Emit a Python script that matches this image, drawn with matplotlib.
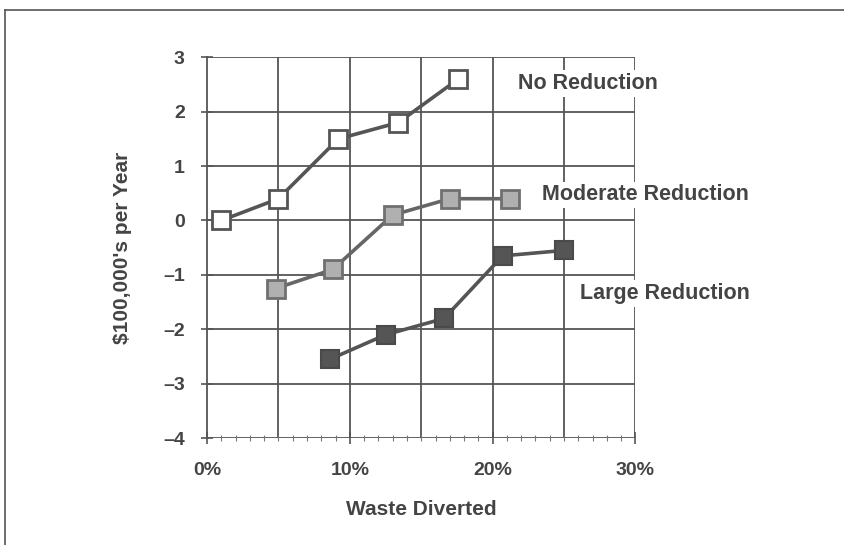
import matplotlib
matplotlib.use('Agg')
import matplotlib.pyplot as plt
from matplotlib.ticker import MultipleLocator, FuncFormatter
from matplotlib.lines import Line2D

# waste diverted (%) and cost ($100,000's per year) per scenario
no_x = [1, 5, 9.2, 13.4, 17.6]
no_y = [0, 0.4, 1.5, 1.8, 2.6]
mod_x = [4.8, 8.8, 13, 17, 21.2]
mod_y = [-1.25, -0.9, 0.1, 0.4, 0.4]
large_x = [8.6, 12.5, 16.6, 20.7, 25]
large_y = [-2.55, -2.1, -1.8, -0.65, -0.55]

labels = ['No Reduction', 'Moderate Reduction', 'Large Reduction']
label_pos = [(26.7, 2.52), (30.7, 0.47), (32.1, -1.34)]

plt.rcParams['font.family'] = ['Liberation Sans', 'DejaVu Sans']
txt = '#444444'

fig = plt.figure(figsize=(8.45, 5.45), dpi=100)
ax = fig.add_axes([0.245, 0.196, 0.507, 0.699])

ax.set_xlim(0, 30)
ax.set_ylim(-4, 3)
ax.xaxis.set_major_locator(MultipleLocator(10))
ax.xaxis.set_minor_locator(MultipleLocator(1))
ax.yaxis.set_major_locator(MultipleLocator(1))
ax.xaxis.set_major_formatter(FuncFormatter(lambda v, p: '%d%%' % v))
ax.yaxis.set_major_formatter(FuncFormatter(lambda v, p: '%d' % v if v >= 0 else '\u2013%d' % -v))

# grid every 5% and every unit
for gx in range(5, 31, 5):
    ax.axvline(gx, color='#555555', lw=1.3, zorder=1)
for gy in range(-4, 4):
    ax.axhline(gy, color='#555555', lw=1.3, zorder=1)

for s in ax.spines.values():
    s.set_visible(False)
ax.spines['left'].set_visible(True)
ax.spines['left'].set_color('#555555')
ax.spines['left'].set_linewidth(1.3)

ax.tick_params(axis='both', which='major', direction='inout', length=8, width=1.2,
               color='#555555', labelsize=14, labelcolor=txt)
ax.tick_params(axis='x', which='minor', direction='inout', length=4, width=0.8, color='#777777')
ax.tick_params(axis='x', pad=13)
ax.tick_params(axis='y', pad=12)
for t in ax.get_xticklabels() + ax.get_yticklabels():
    t.set_fontweight('bold')

ax.plot(no_x, no_y, color='#555555', lw=2.6, marker='s', ms=13,
        mfc='white', mec='#555555', mew=2, zorder=3)
ax.plot(mod_x, mod_y, color='#666666', lw=2.6, marker='s', ms=13,
        mfc='#b0b0b0', mec='#707070', mew=2, zorder=3)
ax.plot(large_x, large_y, color='#555555', lw=2.6, marker='s', ms=13,
        mfc='#555555', mec='#4a4a4a', mew=1.5, zorder=3)

for lab, (lx, ly) in zip(labels, label_pos):
    ax.text(lx, ly, lab, ha='center', va='center', fontsize=15.5, fontweight='bold',
            color=txt, zorder=4, clip_on=False,
            bbox=dict(facecolor='white', edgecolor='none', pad=2))

ax.set_xlabel('Waste Diverted', fontsize=15, fontweight='bold', color=txt, labelpad=15)
ax.set_ylabel("$100,000's per Year", fontsize=15, fontweight='bold', color=txt, labelpad=22)

# outer frame, only top and left edge visible
fig.add_artist(Line2D([0.006, 0.006], [0.0, 0.982], color='#555555', lw=1.2))
fig.add_artist(Line2D([0.006, 1.0], [0.982, 0.982], color='#555555', lw=1.2))

fig.savefig('out.png', dpi=100)
